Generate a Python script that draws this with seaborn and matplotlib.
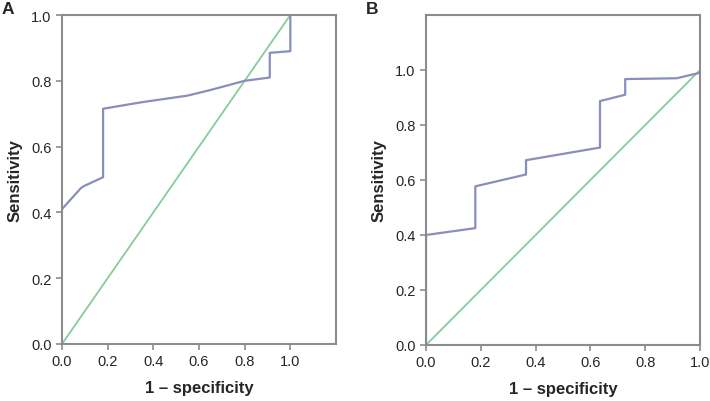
import matplotlib
matplotlib.use("Agg")
import matplotlib.pyplot as plt
import seaborn as sns
import pandas as pd

# ROC curve points
fpr_a = [0.0, 0.083, 0.096, 0.18, 0.18, 0.35, 0.55, 0.65, 0.80, 0.91, 0.91, 1.0, 1.0]
tpr_a = [0.41, 0.474, 0.48, 0.507, 0.715, 0.735, 0.755, 0.772, 0.80, 0.81, 0.885, 0.89, 1.0]

fpr_b = [0.0, 0.0, 0.18, 0.18, 0.365, 0.365, 0.635, 0.635, 0.727, 0.727, 0.915, 1.0]
tpr_b = [0.0, 0.40, 0.425, 0.577, 0.62, 0.672, 0.718, 0.887, 0.91, 0.967, 0.97, 0.99]

ref_x = [0.0, 1.0]
ref_y = [0.0, 1.0]

ticks = [0.0, 0.2, 0.4, 0.6, 0.8, 1.0]
tick_labels = ["0.0", "0.2", "0.4", "0.6", "0.8", "1.0"]

sns.set_style("white")
plt.rcParams["font.family"] = ["Liberation Sans", "DejaVu Sans"]

roc_color = "#8a8eba"
ref_color = "#86cc9c"
frame_color = "#8c8c8c"

fig = plt.figure(figsize=(7.1, 4.02), dpi=100)
ax_a = fig.add_axes([62 / 710, 57 / 402, 274 / 710, 329 / 402])
ax_b = fig.add_axes([426 / 710, 56 / 402, 274 / 710, 330 / 402])


def draw_panel(ax, fx, ty, xlim, ylim, letter):
    df = pd.DataFrame({"x": fx, "y": ty})
    ref = pd.DataFrame({"x": ref_x, "y": ref_y})
    sns.lineplot(data=ref, x="x", y="y", ax=ax, color=ref_color, lw=1.3,
                 sort=False, estimator=None)
    sns.lineplot(data=df, x="x", y="y", ax=ax, color=roc_color, lw=1.6,
                 sort=False, estimator=None)
    ax.set_xlim(*xlim)
    ax.set_ylim(*ylim)
    ax.set_xticks(ticks)
    ax.set_xticklabels(tick_labels)
    ax.set_yticks(ticks)
    ax.set_yticklabels(tick_labels)
    ax.tick_params(direction="out", length=4.5, width=1.2, color=frame_color,
                   labelsize=10.5, pad=3, bottom=True, left=True)
    for s in ax.spines.values():
        s.set_color(frame_color)
        s.set_linewidth(1.5)
    ax.set_xlabel("1 \u2013 specificity", fontsize=12, fontweight="bold", labelpad=8)
    ax.set_ylabel("Sensitivity", fontsize=12, fontweight="bold", labelpad=6)
    ax.text(-0.22, 1.02, letter, transform=ax.transAxes, fontsize=12.5,
            fontweight="bold", ha="left", va="center")


draw_panel(ax_a, fpr_a, tpr_a, (0, 1.2), (0, 1.0), "A")
draw_panel(ax_b, fpr_b, tpr_b, (0, 1.0), (0, 1.2), "B")

fig.savefig("out.png", dpi=100)
